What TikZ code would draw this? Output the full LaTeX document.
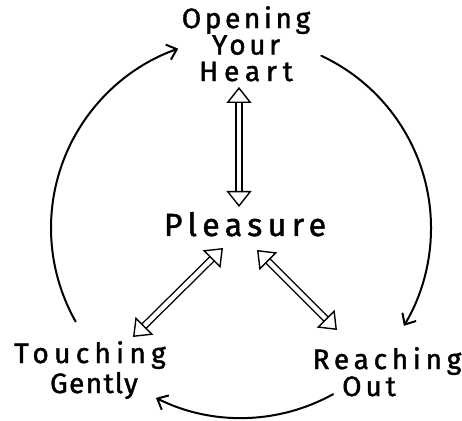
\documentclass[tikz,border=0pt]{standalone}
\usepackage{fontspec}
\setmainfont{Fira Sans}[FakeBold=1.5]
\usetikzlibrary{arrows.meta,calc}
\tikzset{
  lbl/.style={anchor=base, inner sep=0pt, font=\fontsize{28}{28}\selectfont},
  big/.style={font=\fontsize{32}{32}\selectfont},
  circarrow/.style={line width=2pt, line cap=round,
    -{Straight Barb[length=9pt,width=16pt,line width=2pt]}},
  hollow/.style={double=white, double distance=4.5pt, line width=1.4pt,
    {Triangle[open,length=16pt,width=25pt,line width=1.4pt]}-{Triangle[open,length=16pt,width=25pt,line width=1.4pt]}}
}
\begin{document}
\begin{tikzpicture}[x=1pt,y=1pt]
\useasboundingbox (0,0) rectangle (462,420);
\coordinate (c) at (241,192);
% labels
\node[inner sep=0pt, anchor=north, align=center, font=\fontsize{28}{26.5}\selectfont]
  (heart) at (246,414)
  {{\addfontfeatures{LetterSpace=13}Opening}\\{\addfontfeatures{LetterSpace=13}Your}\\{\addfontfeatures{LetterSpace=21}Heart}};
\node[lbl,big] (pleas) at (245,184) {\addfontfeatures{LetterSpace=17}Pleasure};
\node[lbl] (touch) at (90,57) {\addfontfeatures{LetterSpace=19}Touching};
\node[lbl] (gently) at (94,27) {\addfontfeatures{LetterSpace=5}Gently};
\node[lbl] (reach) at (387,51) {\addfontfeatures{LetterSpace=17}Reaching};
\node[lbl] (out) at (369,24) {\addfontfeatures{LetterSpace=14}Out};
% circle arrows
\coordinate (l1) at ($(c)+(209.5:190)$);
\coordinate (r1) at ($(c)+(65:190)$);
\coordinate (b1) at ($(c)+(-61:190)$);
\draw[circarrow] (l1) arc[start angle=209.5, end angle=109.3, radius=190];
\draw[circarrow] (r1) arc[start angle=65, end angle=-31, radius=190];
\draw[circarrow] (b1) arc[start angle=-61, end angle=-116.6, radius=190];
% hollow double arrows
\coordinate (v1) at (239,333);
\coordinate (v2) at (239,213);
\coordinate (a1) at (223,172);
\coordinate (a2) at (133,83);
\coordinate (d1) at (257,170);
\coordinate (d2) at (337,90);
\draw[hollow] (v1) -- (v2);
\draw[hollow] (a1) -- (a2);
\draw[hollow] (d1) -- (d2);
\end{tikzpicture}
\end{document}
